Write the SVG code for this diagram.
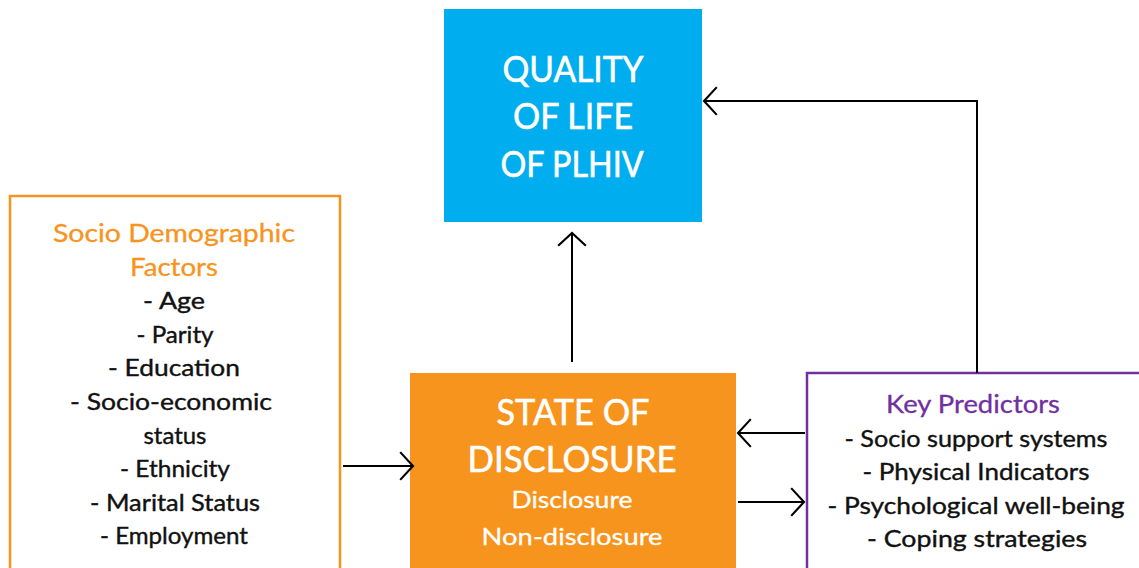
<svg xmlns="http://www.w3.org/2000/svg" width="1139" height="568" viewBox="0 0 1139 568">
  <style>
    text { font-family: "Lato", "Noto Sans", "DejaVu Sans", sans-serif; text-anchor: middle; }
    .head { font-size: 37px; fill: #ffffff; stroke: #ffffff; stroke-width: 0.6; }
    .sub { font-size: 24px; fill: #ffffff; stroke: #ffffff; stroke-width: 0.3; }
    .item { font-size: 24px; fill: #111111; stroke: #111111; stroke-width: 0.4; }
    .title-o { font-size: 25px; fill: #F7941D; stroke: #F7941D; stroke-width: 0.3; }
    .title-p { font-size: 25px; fill: #7030A0; stroke: #7030A0; stroke-width: 0.3; }
    .link { fill: none; stroke: #000000; stroke-width: 2; }
  </style>
  <defs>
    <marker id="open-arrow" markerUnits="userSpaceOnUse" markerWidth="20" markerHeight="32" viewBox="-14 -15 16 30" refX="0" refY="0" orient="auto">
      <path d="M -12 -13 L 0 0 L -12 13" fill="none" stroke="#000000" stroke-width="2"/>
    </marker>
  </defs>

  <rect width="1139" height="568" fill="#ffffff"/>

  <!-- Outcome -->
  <g id="quality-of-life">
    <rect x="444" y="9" width="258" height="213" fill="#00AEEF"/>
    <text class="head" x="573" y="82" textLength="141" lengthAdjust="spacingAndGlyphs">QUALITY</text>
    <text class="head" x="573" y="129" textLength="120" lengthAdjust="spacingAndGlyphs">OF LIFE</text>
    <text class="head" x="572" y="177" textLength="143" lengthAdjust="spacingAndGlyphs">OF PLHIV</text>
  </g>

  <!-- Socio-demographic factors -->
  <g id="socio-demographic">
    <rect x="10" y="196" width="330" height="390" fill="none" stroke="#F7941D" stroke-width="2.5"/>
    <text class="title-o" x="174" y="242" textLength="242" lengthAdjust="spacingAndGlyphs">Socio Demographic</text>
    <text class="title-o" x="174" y="276" textLength="88" lengthAdjust="spacingAndGlyphs">Factors</text>
    <text class="item" x="174" y="309" textLength="62" lengthAdjust="spacingAndGlyphs">- Age</text>
    <text class="item" x="175" y="343" textLength="77" lengthAdjust="spacingAndGlyphs">- Parity</text>
    <text class="item" x="174" y="376" textLength="132" lengthAdjust="spacingAndGlyphs">- Education</text>
    <text class="item" x="171" y="410" textLength="202" lengthAdjust="spacingAndGlyphs">- Socio-economic</text>
    <text class="item" x="175" y="444" textLength="63" lengthAdjust="spacingAndGlyphs">status</text>
    <text class="item" x="175" y="477" textLength="110" lengthAdjust="spacingAndGlyphs">- Ethnicity</text>
    <text class="item" x="175" y="511" textLength="170" lengthAdjust="spacingAndGlyphs">- Marital Status</text>
    <text class="item" x="174" y="544" textLength="148" lengthAdjust="spacingAndGlyphs">- Employment</text>
  </g>

  <!-- Disclosure state -->
  <g id="state-of-disclosure">
    <rect x="410" y="373" width="326" height="200" fill="#F7941D"/>
    <text class="head" x="573" y="425" textLength="153" lengthAdjust="spacingAndGlyphs">STATE OF</text>
    <text class="head" x="572" y="472" textLength="209" lengthAdjust="spacingAndGlyphs">DISCLOSURE</text>
    <text class="sub" x="572" y="508" textLength="121" lengthAdjust="spacingAndGlyphs">Disclosure</text>
    <text class="sub" x="572" y="545" textLength="181" lengthAdjust="spacingAndGlyphs">Non-disclosure</text>
  </g>

  <!-- Key predictors -->
  <g id="key-predictors">
    <rect x="807" y="373" width="340" height="210" fill="none" stroke="#7030A0" stroke-width="2.5"/>
    <text class="title-p" x="973" y="413" textLength="174" lengthAdjust="spacingAndGlyphs">Key Predictors</text>
    <text class="item" x="976" y="447" textLength="263" lengthAdjust="spacingAndGlyphs">- Socio support systems</text>
    <text class="item" x="976" y="480" textLength="227" lengthAdjust="spacingAndGlyphs">- Physical Indicators</text>
    <text class="item" x="976" y="514" textLength="297" lengthAdjust="spacingAndGlyphs">- Psychological well-being</text>
    <text class="item" x="977" y="547" textLength="220" lengthAdjust="spacingAndGlyphs">- Coping strategies</text>
  </g>

  <!-- Connectors -->
  <g id="connectors">
    <path class="link" d="M 343 466 L 413 466" marker-end="url(#open-arrow)"/>
    <path class="link" d="M 572 362 L 572 233" marker-end="url(#open-arrow)"/>
    <path class="link" d="M 805 433 L 738 433" marker-end="url(#open-arrow)"/>
    <path class="link" d="M 738 502 L 804 502" marker-end="url(#open-arrow)"/>
    <path class="link" d="M 977 373 L 977 101 L 704 101" marker-end="url(#open-arrow)"/>
  </g>
</svg>
